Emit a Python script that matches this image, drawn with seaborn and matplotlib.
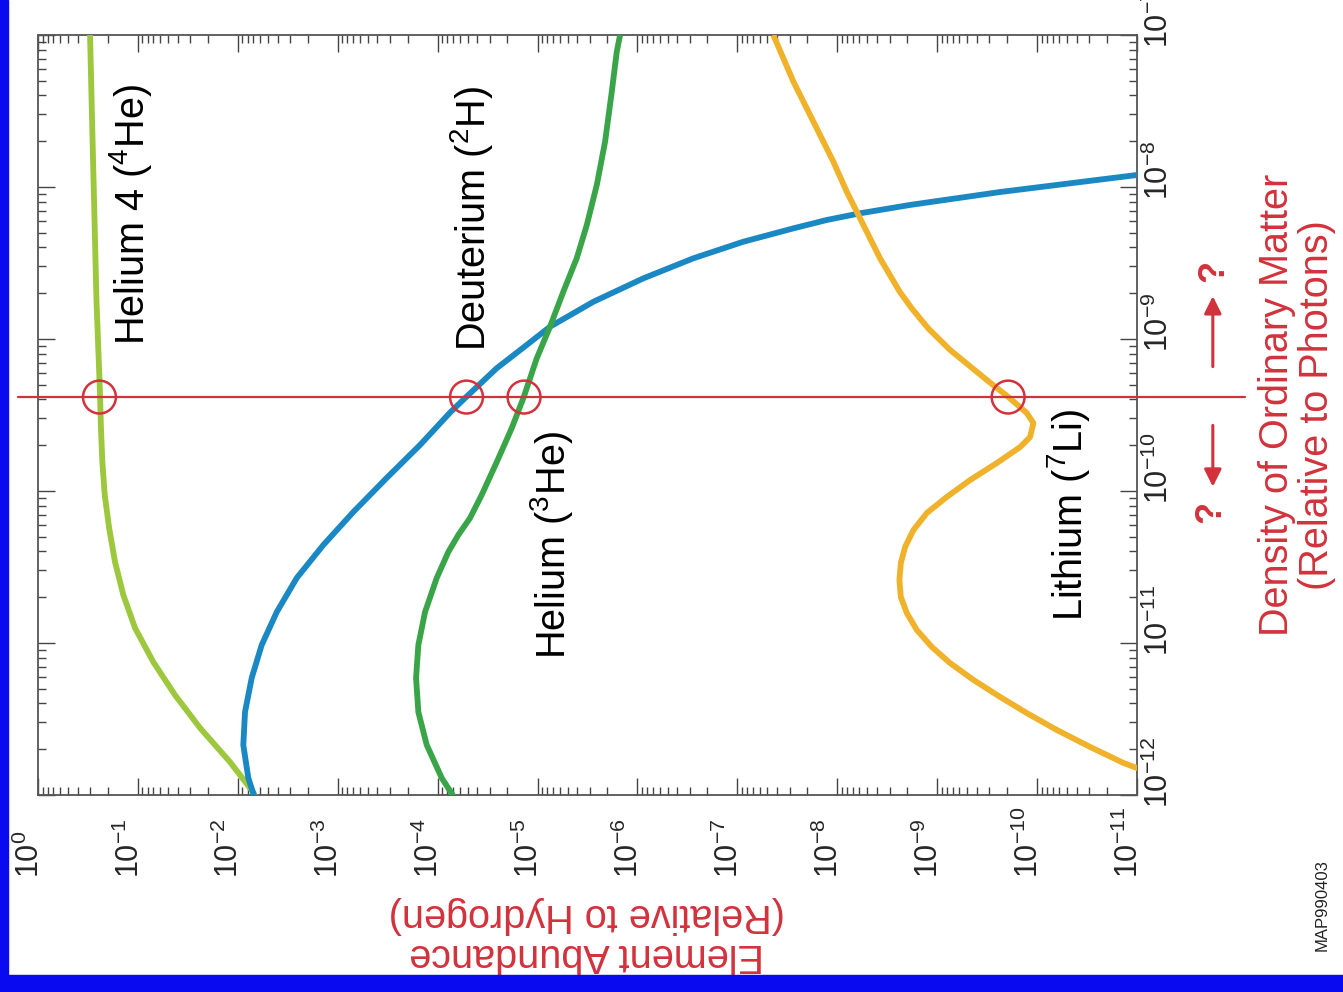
import numpy as np
import pandas as pd
import matplotlib
matplotlib.use("Agg")
import matplotlib.pyplot as plt
from matplotlib import transforms, ticker
from matplotlib.patches import Rectangle
import seaborn as sns

sns.set_style("ticks")
plt.rcParams['font.family'] = ['Liberation Sans', 'DejaVu Sans']
plt.rcParams['mathtext.fontset'] = 'custom'
plt.rcParams['mathtext.rm'] = 'Liberation Sans'
plt.rcParams['mathtext.it'] = 'Liberation Sans:italic'
plt.rcParams['mathtext.bf'] = 'Liberation Sans:bold'
plt.rcParams['mathtext.default'] = 'regular'

# ---------------- data (log10 values) ----------------
elements = ["Helium 4", "Deuterium", "Helium 3", "Lithium"]

he4_log_density = [-12.02, -11.98, -11.783, -11.559, -11.342, -11.125, -10.901,
                   -10.684, -10.467, -10.243, -10.026, -9.809, -9.586, -9.368,
                   -9.138, -8.743, -8.086, -7.559, -7.0]
he4_log_abund = [-2.18, -2.152, -1.922, -1.622, -1.371, -1.154, -0.971,
                 -0.854, -0.771, -0.712, -0.668, -0.644, -0.630, -0.621,
                 -0.608, -0.585, -0.561, -0.541, -0.521]

d_log_density = [-12.02, -11.888, -11.671, -11.454, -11.230, -11.013, -10.796,
                 -10.572, -10.355, -10.138, -9.914, -9.697, -9.480, -9.382,
                 -9.193, -9.039, -8.919, -8.755, -8.601, -8.469, -8.360, -8.272,
                 -8.217, -8.173, -8.118, -8.033, -7.921]
d_log_abund = [-2.17, -2.105, -2.055, -2.072, -2.139, -2.239, -2.390,
               -2.590, -2.856, -3.156, -3.490, -3.824, -4.130, -4.285,
               -4.590, -4.892, -5.125, -5.559, -6.059, -6.560, -7.060, -7.561,
               -7.895, -8.228, -8.729, -9.630, -11.0]

he3_log_density = [-12.02, -11.888, -11.671, -11.454, -11.230, -11.013, -10.796,
                   -10.572, -10.401, -10.289, -10.178, -10.026, -9.809, -9.586,
                   -9.382, -9.127, -8.919, -8.689, -8.469, -8.250, -7.987,
                   -7.702, -7.373, -7.110, -7.0]
he3_log_abund = [-4.17, -4.041, -3.891, -3.807, -3.784, -3.807, -3.874,
                 -3.991, -4.107, -4.207, -4.324, -4.441, -4.592, -4.742,
                 -4.862, -4.992, -5.125, -5.258, -5.392, -5.493, -5.593,
                 -5.676, -5.743, -5.793, -5.826]

li_log_density = [-11.86, -11.822, -11.789, -11.684, -11.572, -11.461, -11.355,
                  -11.243, -11.132, -11.026, -10.914, -10.803, -10.697, -10.586,
                  -10.474, -10.368, -10.257, -10.145, -10.039, -9.928, -9.816,
                  -9.711, -9.645, -9.553, -9.487, -9.382, -9.270, -9.072,
                  -8.930, -8.798, -8.689, -8.469, -8.206, -8.031, -7.834,
                  -7.570, -7.307, -7.0]
li_log_abund = [-11.2, -10.998, -10.864, -10.531, -10.197, -9.897, -9.630,
                -9.363, -9.129, -8.946, -8.796, -8.696, -8.636, -8.622,
                -8.636, -8.679, -8.762, -8.896, -9.096, -9.329, -9.597,
                -9.830, -9.930, -9.963, -9.897, -9.713, -9.497, -9.129,
                -8.910, -8.745, -8.625, -8.428, -8.228, -8.095, -7.961,
                -7.761, -7.561, -7.360]

measured_log_density = -9.382                        # red line
circle_log_abund = [-0.615, -4.289, -4.865, -9.71]   # intersections marked

abund_tick_exps = list(range(0, -12, -1))
density_tick_exps = list(range(-12, -6))

colors = {"Helium 4": "#9dc73d", "Deuterium": "#1a88c2",
          "Helium 3": "#39a548", "Lithium": "#f0b22b"}
red = "#d2323c"

# ---------------- build table ----------------
frames = []
for name, ld, la in [("Helium 4", he4_log_density, he4_log_abund),
                     ("Deuterium", d_log_density, d_log_abund),
                     ("Helium 3", he3_log_density, he3_log_abund),
                     ("Lithium", li_log_density, li_log_abund)]:
    frames.append(pd.DataFrame({"element": name,
                                "density": 10.0 ** np.array(ld),
                                "abundance": 10.0 ** np.array(la)}))
df = pd.concat(frames, ignore_index=True)

W, H = 1343, 992
fig = plt.figure(figsize=(W / 100, H / 100), dpi=100)
fig.patch.set_facecolor("white")
L, R, T, B = 38, 1137, 35, 795
ax = fig.add_axes([L / W, 1 - B / H, (R - L) / W, (B - T) / H])

sns.lineplot(data=df, x="abundance", y="density", hue="element",
             hue_order=elements, palette=colors, sort=False, estimator=None,
             linewidth=4.2, legend=False, ax=ax, zorder=3)
for ln in ax.get_lines():
    ln.set_solid_joinstyle("round")
    ln.set_solid_capstyle("butt")

ax.set_xscale("log")
ax.set_yscale("log")
ax.set_xlim(1.0, 1e-11)
ax.set_ylim(1e-12, 1e-7)
ax.set_xlabel("")
ax.set_ylabel("")

ax.set_xticks([10.0 ** e for e in abund_tick_exps])
ax.set_xticklabels([r"$10^{%d}$" % e for e in abund_tick_exps])
ax.set_yticks([10.0 ** e for e in density_tick_exps])
ax.set_yticklabels([r"$10^{%d}$" % e for e in density_tick_exps])
for axis in (ax.xaxis, ax.yaxis):
    axis.set_minor_locator(ticker.LogLocator(base=10, subs=np.arange(2, 10), numticks=100))
    axis.set_minor_formatter(ticker.NullFormatter())

for s in ax.spines.values():
    s.set_color("#555555")
    s.set_linewidth(1.3)

ax.tick_params(which="both", direction="in", top=True, bottom=True, left=True,
               right=True, color="#444444", width=1.0)
ax.tick_params(which="major", length=12)
ax.tick_params(which="minor", length=6)
ax.tick_params(axis="x", which="major", labelsize=22, pad=60, labelrotation=90)
ax.tick_params(axis="y", which="major", labelsize=22, pad=5, labelleft=False,
               labelright=True, labelrotation=90)

dx_off = transforms.ScaledTranslation(-8 / 100, 0, fig.dpi_scale_trans)
for lab in ax.get_xticklabels():
    lab.set_va("bottom")
    lab.set_ha("center")
    lab.set_transform(lab.get_transform() + dx_off)
dy_off = transforms.ScaledTranslation(0, -13 / 100, fig.dpi_scale_trans)
for lab in ax.get_yticklabels():
    lab.set_va("bottom")
    lab.set_ha("left")
    lab.set_transform(lab.get_transform() + dy_off)

# red measured-density line and circles
blend = transforms.blended_transform_factory(ax.transAxes, ax.transData)
eta = 10.0 ** measured_log_density
ax.plot([-0.018, 1.098], [eta, eta], color=red, lw=1.6, transform=blend,
        clip_on=False, zorder=4)
ax.scatter(10.0 ** np.array(circle_log_abund), [eta] * len(circle_log_abund),
           s=560, facecolors="none", edgecolors=red, linewidths=1.8, zorder=5)

# curve labels
label_specs = [("Helium 4 ($^{4}$He)", -0.921, -8.184),
               ("Deuterium ($^{2}$H)", -4.334, -8.204),
               ("Helium ($^{3}$He)", -5.135, -10.355),
               ("Lithium ($^{7}$Li)", -10.31, -10.158)]
for txt, la, ld in label_specs:
    ax.text(10.0 ** la, 10.0 ** ld, txt, rotation=90, ha="center", va="center",
            fontsize=28.5, color="black", zorder=6)

# arrows with question marks
ax.annotate("", xy=(1.069, 10.0 ** -8.70), xytext=(1.069, 10.0 ** -9.20),
            xycoords=blend, textcoords=blend, annotation_clip=False,
            arrowprops=dict(arrowstyle="-|>", color=red, lw=2.2, mutation_scale=26))
ax.annotate("", xy=(1.069, 10.0 ** -9.99), xytext=(1.069, 10.0 ** -9.55),
            xycoords=blend, textcoords=blend, annotation_clip=False,
            arrowprops=dict(arrowstyle="-|>", color=red, lw=2.2, mutation_scale=26))
ax.text(1.070, 10.0 ** -8.55, "?", transform=blend, rotation=90, ha="center",
        va="center", fontsize=26, fontweight="bold", color=red)
ax.text(1.067, 10.0 ** -10.14, "?", transform=blend, rotation=90, ha="center",
        va="center", fontsize=26, fontweight="bold", color=red)

# axis titles
fig.text(587 / W, 1 - 935 / H, "Element Abundance\n(Relative to Hydrogen)",
         rotation=180, ha="center", va="center", fontsize=28.5, color=red,
         linespacing=1.05, multialignment="center")
fig.text(1297 / W, 1 - 405 / H, "Density of Ordinary Matter\n(Relative to Photons)",
         rotation=90, ha="center", va="center", fontsize=28.5, color=red,
         linespacing=1.05, multialignment="center")
fig.text(1322 / W, 1 - 905 / H, "MAP990403", rotation=90, ha="center",
         va="center", fontsize=12, color="#222222")

# blue frame strips
fig.add_artist(Rectangle((0, 0), 8 / W, 1, transform=fig.transFigure,
                         color="#0a0af0", zorder=10))
fig.add_artist(Rectangle((0, 0), 1, 17 / H, transform=fig.transFigure,
                         color="#0a0af0", zorder=10))

fig.savefig("out.png", dpi=100)
